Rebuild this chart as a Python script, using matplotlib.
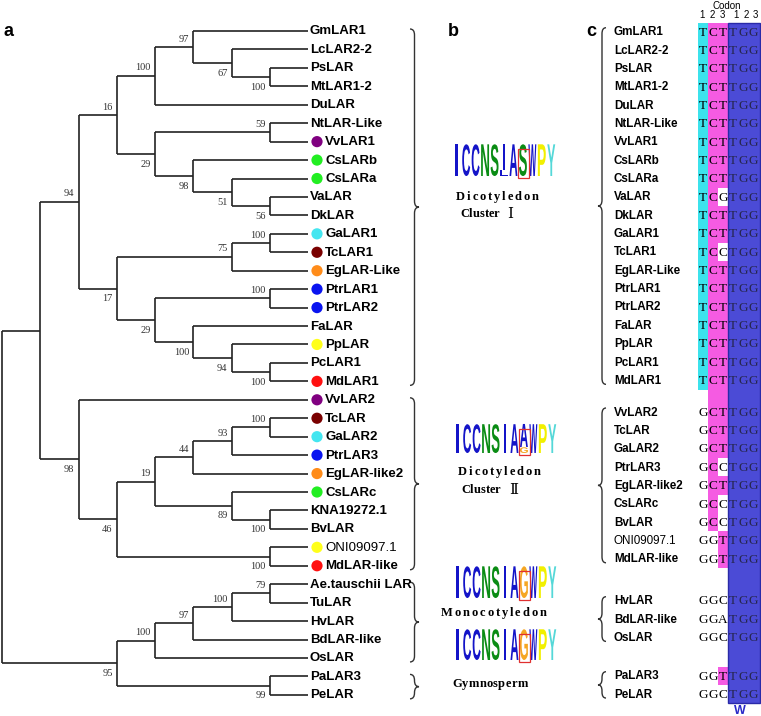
import matplotlib
matplotlib.use('Agg')
import matplotlib.pyplot as plt
from matplotlib import font_manager
from matplotlib.patches import Circle, Rectangle, PathPatch
from matplotlib.path import Path
from matplotlib.textpath import TextPath
from matplotlib.font_manager import FontProperties, findfont, get_font
from matplotlib.transforms import Affine2D

# ---------------- data ----------------
tree_newick = ("((((((GmLAR1,(LcLAR2-2,(PsLAR,MtLAR1-2)100)67)97,DuLAR)100,"
               "((NtLAR-Like,VvLAR1)59,(CsLARb,(CsLARa,(VaLAR,DkLAR)56)51)98)29)16,"
               "(((GaLAR1,TcLAR1)100,EgLAR-Like)75,((PtrLAR1,PtrLAR2)100,"
               "(FaLAR,(PpLAR,(PcLAR1,MdLAR1)100)94)100)29)17)94,"
               "(VvLAR2,(((((TcLAR,GaLAR2)100,PtrLAR3)93,EgLAR-like2)44,"
               "(CsLARc,(KNA19272.1,BvLAR)100)89)19,(ONI09097.1,MdLAR-like)100)46)98),"
               "(((((Ae.tauschii LAR,TuLAR)79,HvLAR)100,BdLAR-like)97,OsLAR)100,"
               "(PaLAR3,PeLAR)99)95);")

dot_colors = {
    'VvLAR1': '#800080', 'CsLARb': '#22EE22', 'CsLARa': '#22EE22',
    'GaLAR1': '#44E6F0', 'TcLAR1': '#7A0000', 'EgLAR-Like': '#FF8C1A',
    'PtrLAR1': '#0A14F0', 'PtrLAR2': '#0A14F0', 'PpLAR': '#FFFF1A',
    'MdLAR1': '#FF1010', 'VvLAR2': '#800080', 'TcLAR': '#7A0000',
    'GaLAR2': '#44E6F0', 'PtrLAR3': '#0A14F0', 'EgLAR-like2': '#FF8C1A',
    'CsLARc': '#22EE22', 'ONI09097.1': '#FFFF1A', 'MdLAR-like': '#FF1010',
}

# clusters (first leaf, last leaf) for the braces of panel a
clade_ranges = [(0, 19), (20, 29), (30, 34), (35, 36)]

# logos (panel b): each position is a stack of (letter, share), top first
logo_dicot1 = [[('I', 1)], [('C', 1)], [('C', 1)], [('N', 1)], [('S', 1)],
               [('I', 0.82), ('L', 0.18)], [('A', 1)], [('S', 1)], [('W', 1)], [('P', 1)], [('Y', 1)]]
logo_dicot2 = [[('I', 1)], [('C', 1)], [('C', 1)], [('N', 1)], [('S', 1)],
               [('I', 1)], [('A', 1)], [('A', 0.8), ('G', 0.2)], [('W', 1)], [('P', 1)], [('Y', 1)]]
logo_mono = [[('I', 1)], [('C', 1)], [('C', 1)], [('N', 1)], [('S', 1)],
             [('I', 1)], [('A', 1)], [('G', 1)], [('W', 1)], [('P', 1)], [('Y', 1)]]
logo_gymno = logo_mono
logo_box_pos = 7
aa_colors = {'I': '#1414C8', 'C': '#1414C8', 'A': '#1414C8', 'W': '#1414C8', 'L': '#1414C8',
             'N': '#0A8C14', 'S': '#0A8C14', 'P': '#F2F000', 'Y': '#55D8D8', 'G': '#F5A623'}

# codons (panel c)
codon_names_1 = ['GmLAR1', 'LcLAR2-2', 'PsLAR', 'MtLAR1-2', 'DuLAR', 'NtLAR-Like', 'VvLAR1',
                 'CsLARb', 'CsLARa', 'VaLAR', 'DkLAR', 'GaLAR1', 'TcLAR1', 'EgLAR-Like',
                 'PtrLAR1', 'PtrLAR2', 'FaLAR', 'PpLAR', 'PcLAR1', 'MdLAR1']
codon_seqs_1 = ['TCTTGG'] * 9 + ['TCGTGG', 'TCTTGG', 'TCTTGG', 'TCCTGG'] + ['TCTTGG'] * 7
codon_names_2 = ['VvLAR2', 'TcLAR', 'GaLAR2', 'PtrLAR3', 'EgLAR-like2', 'CsLARc', 'BvLAR',
                 'ONI09097.1', 'MdLAR-like']
codon_seqs_2 = ['GCTTGG', 'GCTTGG', 'GCTTGG', 'GCCTGG', 'GCTTGG', 'GCCTGG', 'GCCTGG',
                'GGTTGG', 'GGTTGG']
codon_names_3 = ['HvLAR', 'BdLAR-like', 'OsLAR']
codon_seqs_3 = ['GGCTGG', 'GGATGG', 'GGCTGG']
codon_names_4 = ['PaLAR3', 'PeLAR']
codon_seqs_4 = ['GGTTGG', 'GGCTGG']
consensus = 'TCTTGG'

installed = {f.name for f in font_manager.fontManager.ttflist}
narrow = 'Liberation Sans Narrow' if 'Liberation Sans Narrow' in installed else None


# ---------------- helpers ----------------
def parse_newick(s):
    pos = 0

    def label():
        nonlocal pos
        st = pos
        while pos < len(s) and s[pos] not in ',();':
            pos += 1
        return s[st:pos]

    def node():
        nonlocal pos
        if s[pos] == '(':
            pos += 1
            kids = [node()]
            while s[pos] == ',':
                pos += 1
                kids.append(node())
            pos += 1
            return {'kids': kids, 'sup': label()}
        return {'name': label()}
    return node()


def brace(ax, x, y0, y1, w, lw=1.0):
    xm = x + w * 0.5
    ym = (y0 + y1) / 2
    r = min(6, (y1 - y0) / 4)
    verts = [(x, y0), (xm, y0), (xm, y0 + r), (xm, ym - r), (xm, ym), (x + w, ym),
             (xm, ym), (xm, ym + r), (xm, y1 - r), (xm, y1), (x, y1)]
    codes = [Path.MOVETO, Path.CURVE3, Path.CURVE3, Path.LINETO, Path.CURVE3, Path.CURVE3,
             Path.CURVE3, Path.CURVE3, Path.LINETO, Path.CURVE3, Path.CURVE3]
    ax.add_patch(PathPatch(Path(verts, codes), fill=False, lw=lw, color='#333333'))


logo_font = FontProperties(family='Liberation Sans', weight='bold')


def letter(ax, ch, x, ybot, w, h, color):
    p = TextPath((0, 0), ch, size=1, prop=logo_font)
    bb = p.get_extents()
    t = Affine2D().translate(-bb.x0, -bb.y0).scale(w / bb.width, -h / bb.height).translate(x, ybot)
    ax.add_patch(PathPatch(t.transform_path(p), color=color, lw=0))


def draw_logo(ax, logo, x0, y0, x1, y1):
    cw = (x1 - x0) / len(logo)
    for i, stack in enumerate(logo):
        top = y0
        for ch, share in stack:
            h = (y1 - y0) * share
            w = cw * 0.3 if ch == 'I' else cw * 0.84
            xc = x0 + (i + 0.5) * cw
            letter(ax, ch, xc - w / 2, top + h, w, h * 0.96, aa_colors[ch])
            top += h
    bx = x0 + logo_box_pos * cw
    ax.add_patch(Rectangle((bx, y0 + 6), cw * 1.1, y1 - y0 - 4, fill=False, ec='#E03030', lw=0.9))


def spaced_text(ax, x, y, s, size, gap):
    prop = FontProperties(family='Liberation Serif', size=size, weight='bold')
    ft = get_font(findfont(prop))
    ft.set_size(size, 100)
    for ch in s:
        ax.text(x, y, ch, fontproperties=prop, ha='left', va='center')
        x += ft.load_char(ord(ch)).linearHoriAdvance / 65536 + gap


# ---------------- figure ----------------
fig = plt.figure(figsize=(7.61, 7.16), dpi=100)
ax = fig.add_axes([0, 0, 1, 1])
ax.set_xlim(0, 761)
ax.set_ylim(716, 0)
ax.axis('off')

# panel a: tree
root = parse_newick(tree_newick)
leaf_x, step, y0, dy = 308, 38.25, 31, 18.44
leaves = []


def layout(n):
    if 'name' in n:
        n['y'] = y0 + len(leaves) * dy
        n['h'] = 0
        leaves.append(n)
    else:
        for k in n['kids']:
            layout(k)
        n['y'] = sum(k['y'] for k in n['kids']) / len(n['kids'])
        n['h'] = 1 + max(k['h'] for k in n['kids'])
    n['x'] = leaf_x - n['h'] * step


layout(root)
tree_kw = dict(color='#222222', lw=1.2, solid_capstyle='butt')
boot_kw = dict(fontsize=7.5, family='Liberation Serif', color='#333333', ha='right', va='center')


def draw(n):
    if 'kids' not in n:
        return
    ys = [k['y'] for k in n['kids']]
    ax.plot([n['x'], n['x']], [min(ys), max(ys)], **tree_kw)
    for i, k in enumerate(n['kids']):
        ax.plot([n['x'], k['x']], [k['y'], k['y']], **tree_kw)
        if 'kids' in k and k['sup']:
            off = -8 if i == 0 else 10
            ax.text(k['x'] - 4, k['y'] + off, k['sup'], **boot_kw)
        draw(k)


draw(root)

for lf in leaves:
    nm = lf['name']
    tx = leaf_x + 2
    if nm in dot_colors:
        ax.add_patch(Circle((leaf_x + 9, lf['y']), 5.6, color=dot_colors[nm], lw=0))
        tx = leaf_x + 17
    ax.text(tx, lf['y'] + 0.5, nm, fontsize=9.5, family='Liberation Sans',
            weight='normal' if nm.startswith('ONI') else 'bold', va='center', ha='left')

for (a, b) in clade_ranges:
    brace(ax, 410, leaves[a]['y'] - 2, leaves[b]['y'] + 4, 9)

# panel b: logos
draw_logo(ax, logo_dicot1, 452, 143, 556, 176)
draw_logo(ax, logo_dicot2, 453, 423, 557, 453)
draw_logo(ax, logo_mono, 453, 565, 557, 598)
draw_logo(ax, logo_gymno, 453, 628, 557, 660)
roman_kw = dict(fontsize=11, family=['DejaVu Serif', 'Noto Sans CJK SC'], va='center', ha='center')
spaced_text(ax, 456, 197, 'Dicotyledon', 9, 1.9)
spaced_text(ax, 460, 214, 'Cluster', 9, 0)
ax.text(510, 214, 'Ⅰ', **roman_kw)
spaced_text(ax, 458, 472, 'Dicotyledon', 9, 1.9)
spaced_text(ax, 461, 490, 'Cluster', 9, 0)
ax.text(514, 490, 'Ⅱ', **roman_kw)
spaced_text(ax, 441, 613, 'Monocotyledon', 9, 1.9)
spaced_text(ax, 452, 684, 'Gymnosperm', 9, 0.3)

# panel c: codons
c_names = [codon_names_1, codon_names_2, codon_names_3, codon_names_4]
c_seqs = [codon_seqs_1, codon_seqs_2, codon_seqs_3, codon_seqs_4]
group_top = [31.7, 412, 600.7, 675.7]
row_dy = 18.35
rows = []
for g, (names, seqs) in enumerate(zip(c_names, c_seqs)):
    for i, (nm, sq) in enumerate(zip(names, seqs)):
        rows.append((group_top[g] + i * row_dy, nm, sq))

col_x = [698 + 10 * k for k in range(6)]
half = row_dy / 2
hl_colors = ['#3CE2EC', '#F55BE2', '#F55BE2']
for c in range(3):
    run = None
    for i, (y, nm, sq) in enumerate(rows):
        ok = sq[c] == consensus[c]
        if ok and run is None:
            run = y
        if run is not None and (not ok or i == len(rows) - 1):
            yend = y if ok else rows[i - 1][0]
            ax.add_patch(Rectangle((col_x[c], run - half), 10, yend - run + 2 * half,
                                   color=hl_colors[c], lw=0))
            run = None
ax.add_patch(Rectangle((728, rows[0][0] - half), 32, rows[-1][0] - rows[0][0] + 2 * half,
                       fc='#4B4BD6', ec='#2A2AA8', lw=1.0))

for y, nm, sq in rows:
    bold = 'normal' if nm.startswith('ONI') else 'bold'
    if narrow:
        ax.text(615, y + 0.5, nm, fontsize=9.5, family=narrow, weight=bold, va='center', ha='left')
    else:
        ax.text(614, y + 0.5, nm, fontsize=8.4, family='Liberation Sans', weight=bold,
                va='center', ha='left')
    for k, ch in enumerate(sq):
        ax.text(col_x[k] + 5, y + 0.8, ch, fontsize=9.5, family='Liberation Serif',
                color='#26264E' if k >= 3 else 'black', va='center', ha='center')

ax.text(727, 6, 'Codon', fontsize=7, family='Liberation Sans', ha='center', va='center')
for k, xx in enumerate([702, 712, 722, 736, 746, 755]):
    ax.text(xx, 15.5, str(k % 3 + 1), fontsize=7, family='Liberation Sans', ha='center', va='center')
ax.text(740, 711, 'W', fontsize=9, family='Liberation Sans', weight='bold', color='#2A2AC8',
        ha='center', va='center')

c_groups = [(0, 19), (20, 28), (29, 31), (32, 33)]
for a, b in c_groups:
    brace(ax, 606, rows[a][0] - 4, rows[b][0] + 4, -8)

# panel letters
for s, xx in [('a', 8), ('b', 453), ('c', 591)]:
    ax.text(xx, 31, s, fontsize=13, family='Liberation Sans', weight='bold', ha='center', va='center')

fig.savefig('out.png', dpi=100)
